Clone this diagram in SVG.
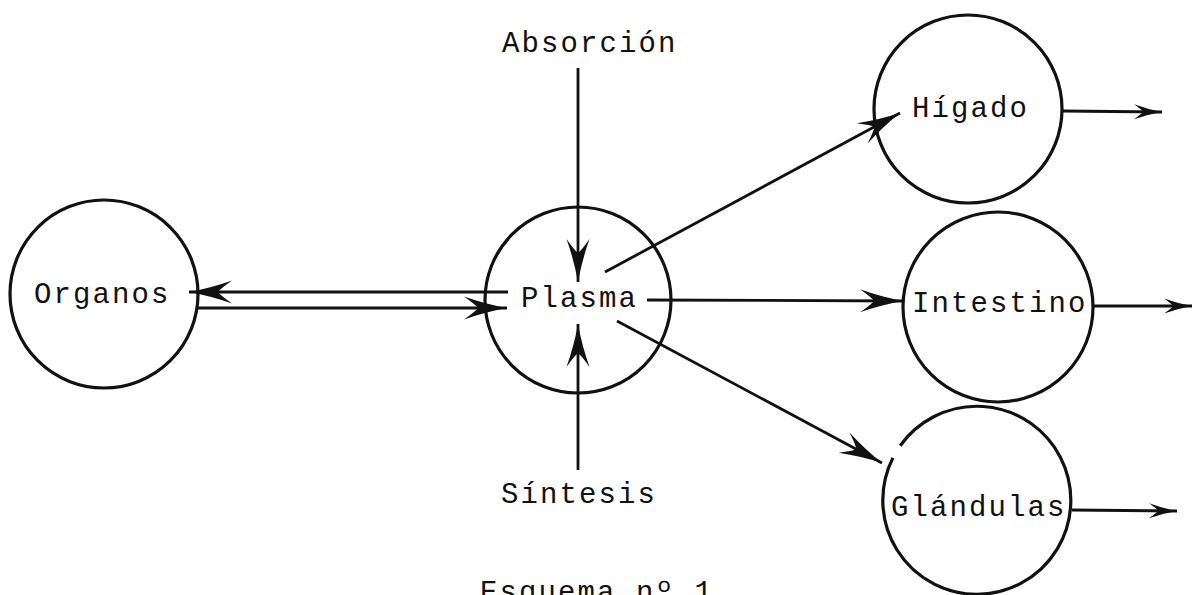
<svg xmlns="http://www.w3.org/2000/svg" width="1193" height="595" viewBox="0 0 1193 595">
<style>
.node{fill:none;stroke:#111;stroke-width:3.2}
.lbl{font-family:"Liberation Mono","DejaVu Sans Mono",monospace;font-size:29px;letter-spacing:2.1px;fill:#111}
.con{fill:none;stroke:#111;stroke-width:2.8}
.big{marker-end:url(#ah)}
.sm{marker-end:url(#as)}
</style>
<defs>
<marker id="ah" viewBox="-44 -13 46 26" markerWidth="46" markerHeight="26" refX="0" refY="0" markerUnits="userSpaceOnUse" orient="auto">
<path d="M0,0 Q-22,-4 -43,-11.5 Q-31,-3 -29,0 Q-31,3 -43,11.5 Q-22,4 0,0Z" fill="#111"/>
</marker>
<marker id="as" viewBox="-30 -9 32 18" markerWidth="32" markerHeight="18" refX="0" refY="0" markerUnits="userSpaceOnUse" orient="auto">
<path d="M0,0 Q-14,-2.5 -28,-7.5 Q-20,-2 -19,0 Q-20,2 -28,7.5 Q-14,2.5 0,0Z" fill="#111"/>
</marker>
</defs>
<rect width="1193" height="595" fill="#fff"/>
<g id="organos">
<circle class="node" cx="104" cy="294" r="94"/>
<text class="lbl" x="34" y="303">Organos</text>
</g>
<g id="plasma">
<circle class="node" cx="578" cy="300" r="93"/>
<text class="lbl" x="521" y="307">Plasma</text>
</g>
<g id="absorcion">
<text class="lbl" x="502" y="52">Absorción</text>
</g>
<g id="sintesis">
<text class="lbl" x="501" y="503">Síntesis</text>
</g>
<g id="higado">
<circle class="node" cx="968" cy="109" r="94"/>
<text class="lbl" x="912" y="117">Hígado</text>
</g>
<g id="intestino">
<circle class="node" cx="998" cy="307" r="95"/>
<text class="lbl" x="912" y="312">Intestino</text>
</g>
<g id="glandulas">
<path class="node" d="M900.2,445.8 A94,94 0 1 1 892.9,457.9"/>
<text class="lbl" x="891" y="516">Glándulas</text>
</g>
<g id="caption">
<text class="lbl" x="480" y="601">Esquema nº 1</text>
</g>
<g id="connectors">
<line class="con big" x1="508" y1="292" x2="189" y2="292"/>
<line class="con big" x1="198" y1="308" x2="507" y2="308"/>
<line class="con big" x1="578" y1="68" x2="578" y2="282"/>
<line class="con big" x1="578" y1="470" x2="578" y2="324"/>
<line class="con big" x1="605" y1="272" x2="900" y2="113"/>
<line class="con big" x1="647" y1="300" x2="903" y2="301"/>
<line class="con big" x1="617" y1="321" x2="882" y2="463"/>
<line class="con sm" x1="1062" y1="111" x2="1162" y2="112"/>
<line class="con sm" x1="1093" y1="306" x2="1192" y2="306"/>
<line class="con sm" x1="1072" y1="510" x2="1177" y2="511"/>
</g>
</svg>
